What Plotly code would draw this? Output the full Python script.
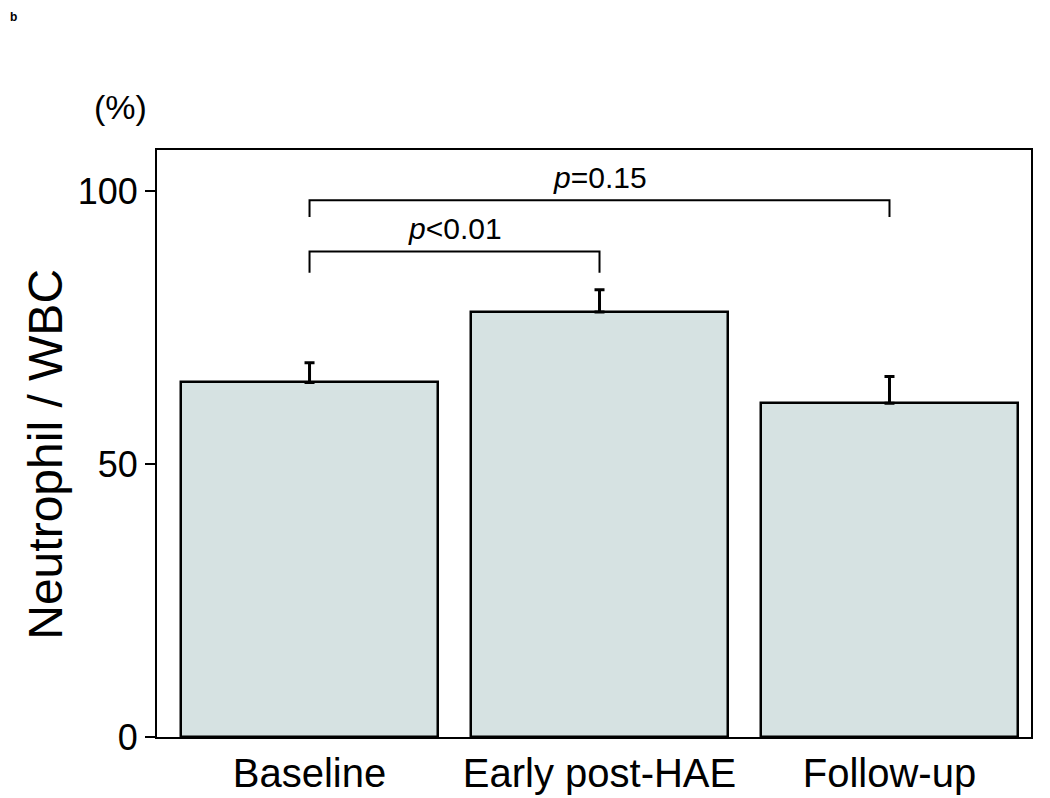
import plotly.graph_objects as go

categories = ["Baseline", "Early post-HAE", "Follow-up"]
means = [65.0, 77.9, 61.2]
errors = [3.6, 4.1, 4.9]
y_ticks = [0, 50, 100]
bracket_pairs = [(0, 1), (0, 2)]
bracket_heights = [89.0, 98.4]
bracket_drops = [3.9, 3.1]
bracket_labels = ["<i>p</i>&lt;0.01", "<i>p</i>=0.15"]

FONT = "Liberation Sans, Arial, sans-serif"
BAR_COLOR = "#d6e2e2"

# page has an 8px body margin; compensate so the plot area lands at the reference pixels
OFF = 8
W, H = 1050, 798
ml, mr, mt, mb = 157 - OFF, 19 + OFF, 150 - OFF, 60.5 + OFF
pw, ph = W - ml - mr, H - mt - mb

fig = go.Figure()
fig.add_trace(go.Bar(
    x=list(range(len(categories))),
    y=means,
    width=0.886,
    marker=dict(color=BAR_COLOR, line=dict(color="black", width=2.5)),
    error_y=dict(type="data", symmetric=False, array=errors,
                 arrayminus=[0] * len(errors), color="black",
                 thickness=3, width=5),
    showlegend=False,
))

shapes = []
annotations = []
for (a, b), h, d, lab in zip(bracket_pairs, bracket_heights, bracket_drops, bracket_labels):
    shapes.append(dict(type="path", xref="x", yref="y",
                       path=f"M {a},{h - d} L {a},{h} L {b},{h} L {b},{h - d}",
                       line=dict(color="black", width=2)))
    annotations.append(dict(x=(a + b) / 2, y=h, xref="x", yref="y", text=lab,
                            showarrow=False, yanchor="bottom", yshift=4,
                            font=dict(family=FONT, size=30, color="black")))


def paper_xy(px, py):
    return (px - OFF - ml) / pw, 1 - (py - OFF - mt) / ph


# (%) unit label
x, y = paper_xy(120, 107)
annotations.append(dict(x=x, y=y, xref="paper", yref="paper", text="(%)",
                        showarrow=False, xanchor="center", yanchor="middle",
                        font=dict(family=FONT, size=34, color="black")))
# y-axis title as rotated annotation
x, y = paper_xy(46, 455)
annotations.append(dict(x=x, y=y, xref="paper", yref="paper", text="Neutrophil / WBC",
                        textangle=-90, showarrow=False, xanchor="center", yanchor="middle",
                        font=dict(family=FONT, size=48, color="black")))
# panel letter at top-left corner
annotations.append(dict(x=-ml / pw, y=1 + mt / ph, xref="paper", yref="paper", text="<b>b</b>",
                        showarrow=False, xanchor="left", yanchor="top",
                        font=dict(family=FONT, size=12, color="black")))

fig.update_layout(
    width=W, height=H,
    margin=dict(l=ml, r=mr, t=mt, b=mb, autoexpand=False),
    plot_bgcolor="white", paper_bgcolor="white",
    font=dict(family=FONT, color="black"),
    shapes=shapes, annotations=annotations,
    bargap=0,
)
fig.update_xaxes(
    range=[-0.526, 2.488], tickvals=list(range(len(categories))), ticktext=categories,
    showline=True, linecolor="black", linewidth=2, mirror=True,
    ticks="", showgrid=False, zeroline=False,
    tickfont=dict(family=FONT, size=40, color="black"),
)
fig.update_yaxes(
    range=[0, 107.6], tickvals=y_ticks,
    showline=True, linecolor="black", linewidth=2, mirror=True,
    ticks="outside", ticklen=10, tickwidth=2, tickcolor="black",
    showgrid=False, zeroline=False,
    tickfont=dict(family=FONT, size=36, color="black"),
)

fig.write_html("out.html")
